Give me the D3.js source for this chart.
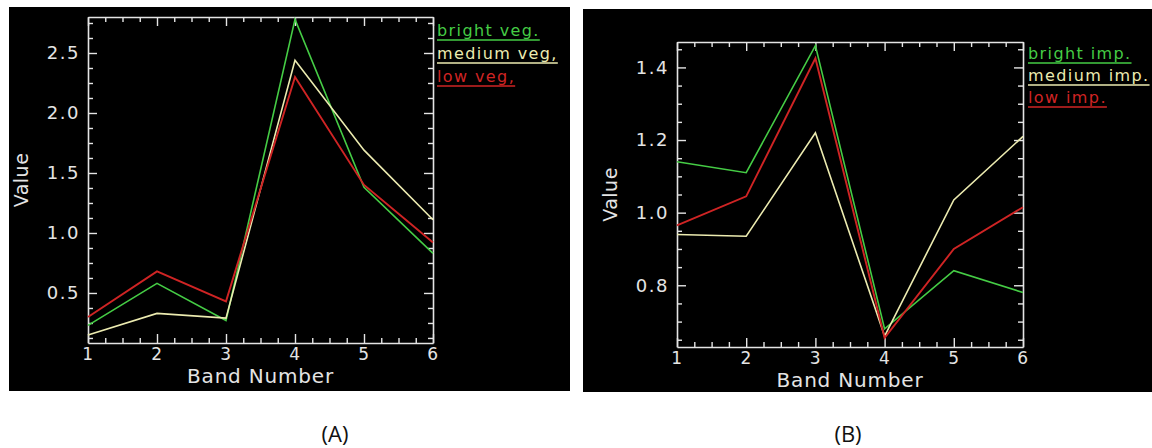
<!DOCTYPE html>
<html>
<head>
<meta charset="utf-8">
<script src="https://cdn.jsdelivr.net/npm/d3@7"></script>
<style>
  html, body { margin: 0; padding: 0; background: #fff; }
  svg { display: block; }
</style>
</head>
<body>
<svg id="chart" width="1152" height="448"></svg>
<script>
// Spectral profiles per band
const bands = [1, 2, 3, 4, 5, 6];

const brightVeg = [0.23, 0.58, 0.27, 2.78, 1.38, 0.83];
const mediumVeg = [0.15, 0.33, 0.29, 2.44, 1.69, 1.11];
const lowVeg    = [0.30, 0.68, 0.43, 2.30, 1.40, 0.92];

const brightImp = [1.14, 1.11, 1.46, 0.68, 0.84, 0.78];
const mediumImp = [0.94, 0.935, 1.22, 0.66, 1.035, 1.21];
const lowImp    = [0.965, 1.045, 1.425, 0.655, 0.90, 1.015];

const vegNames = ["bright veg.", "medium veg,", "low veg,"];
const impNames = ["bright imp.", "medium imp.", "low imp."];

const xTickLabels = ["1", "2", "3", "4", "5", "6"];
const vegYTicks = [0.5, 1.0, 1.5, 2.0, 2.5];
const impYTicks = [0.8, 1.0, 1.2, 1.4];

const panelTitles = ["(A)", "(B)"];

const seriesColors = ["#45cc45", "#ecebb0", "#cf2424"];
const axisColor = "#e4e4e4";

const svg = d3.select("#chart");

function drawPanel(p) {
  const g = svg.append("g");
  // black plotting window
  g.append("rect")
    .attr("x", p.bg[0]).attr("y", p.bg[1])
    .attr("width", p.bg[2]).attr("height", p.bg[3])
    .attr("fill", "#000");

  const x = d3.scaleLinear().domain([1, 6]).range([p.left, p.right]);
  const y = d3.scaleLinear().domain(p.yDomain).range([p.bottom, p.top]);

  const majorLen = 9, minorLen = 5;
  const xMinor = d3.range(1, 6.001, 0.25).filter(v => Math.abs(v - Math.round(v)) > 1e-6);
  const yStart = Math.ceil(p.yDomain[0] / p.yMinorStep - 1e-9) * p.yMinorStep;
  const yMinor = d3.range(yStart, p.yDomain[1] + 1e-9, p.yMinorStep)
    .filter(v => !p.yTicks.some(t => Math.abs(t - v) < 1e-6));

  // axes: bottom/left with labels, top/right tick marks only
  const axB = d3.axisBottom(x).tickValues(bands).tickFormat((d, i) => xTickLabels[i])
    .tickSizeInner(-majorLen).tickSizeOuter(0).tickPadding(5);
  const axT = d3.axisTop(x).tickValues(bands).tickFormat("")
    .tickSizeInner(-majorLen).tickSizeOuter(0);
  const axL = d3.axisLeft(y).tickValues(p.yTicks).tickFormat(d3.format(".1f"))
    .tickSizeInner(-majorLen).tickSizeOuter(0).tickPadding(8);
  const axR = d3.axisRight(y).tickValues(p.yTicks).tickFormat("")
    .tickSizeInner(-majorLen).tickSizeOuter(0);

  const axes = [
    [axB, `translate(0,${p.bottom})`, d3.axisBottom(x).tickValues(xMinor), 17],
    [axT, `translate(0,${p.top})`, d3.axisTop(x).tickValues(xMinor), 17],
    [axL, `translate(${p.left},0)`, d3.axisLeft(y).tickValues(yMinor), 18],
    [axR, `translate(${p.right},0)`, d3.axisRight(y).tickValues(yMinor), 18]
  ];
  axes.forEach(([ax, tr, minor, fs]) => {
    const a = g.append("g").attr("transform", tr).call(ax);
    const m = g.append("g").attr("transform", tr)
      .call(minor.tickFormat("").tickSizeInner(-minorLen).tickSizeOuter(0));
    m.select(".domain").remove();
    [a, m].forEach(s => {
      s.selectAll("line").attr("stroke", axisColor).attr("stroke-width", 1.4);
      s.selectAll("path.domain").attr("stroke", axisColor).attr("stroke-width", 1.6);
      s.selectAll("text").attr("fill", axisColor)
        .style("font-family", "DejaVu Sans").style("font-size", fs + "px")
        .style("letter-spacing", "1.5px");
    });
  });

  // axis titles
  g.append("text")
    .attr("x", (p.left + p.right) / 2).attr("y", p.bottom + 40)
    .attr("text-anchor", "middle").attr("fill", axisColor)
    .style("font-family", "DejaVu Sans").style("font-size", "20px")
    .style("letter-spacing", "0.8px")
    .text("Band Number");
  g.append("text")
    .attr("transform", `translate(${p.left - 60},${(p.top + p.bottom) / 2}) rotate(-90)`)
    .attr("text-anchor", "middle").attr("fill", axisColor)
    .style("font-family", "DejaVu Sans").style("font-size", "19px")
    .style("letter-spacing", "0.5px")
    .text("Value");

  // profile lines
  const line = d3.line().x((d, i) => x(bands[i])).y(d => y(d));
  p.series.forEach((vals, k) => {
    g.append("path").datum(vals)
      .attr("d", line)
      .attr("fill", "none")
      .attr("stroke", seriesColors[k])
      .attr("stroke-width", k === 2 ? 1.9 : 1.6)
      .attr("stroke-linejoin", "miter");
  });

  // legend with underlined labels
  p.names.forEach((name, k) => {
    const by = p.legendY + k * p.legendStep;
    const t = g.append("text")
      .attr("x", p.legendX).attr("y", by)
      .attr("fill", seriesColors[k])
      .style("font-family", "DejaVu Sans").style("font-size", "16px")
      .style("letter-spacing", "1.4px")
      .text(name);
    const w = t.node().getComputedTextLength();
    g.append("line")
      .attr("x1", p.legendX).attr("x2", p.legendX + w)
      .attr("y1", by + 4).attr("y2", by + 4)
      .attr("stroke", seriesColors[k]).attr("stroke-width", 1.6);
  });

  // panel caption
  svg.append("text")
    .attr("x", p.captionX).attr("y", 442)
    .attr("text-anchor", "middle").attr("fill", "#111")
    .style("font-family", "Open Sans").style("font-size", "22px")
    .text(p.caption);
}

drawPanel({
  bg: [9, 7, 561, 384],
  left: 88, right: 433, top: 17, bottom: 343,
  yDomain: [0.083, 2.8], yTicks: vegYTicks, yMinorStep: 0.125,
  series: [brightVeg, mediumVeg, lowVeg], names: vegNames,
  legendX: 437, legendY: 36, legendStep: 23,
  caption: panelTitles[0], captionX: 335
});

drawPanel({
  bg: [583, 9, 569, 383],
  left: 677, right: 1023, top: 42, bottom: 347,
  yDomain: [0.63, 1.47], yTicks: impYTicks, yMinorStep: 0.05,
  series: [brightImp, mediumImp, lowImp], names: impNames,
  legendX: 1028, legendY: 59, legendStep: 22,
  caption: panelTitles[1], captionX: 848
});
</script>
</body>
</html>
